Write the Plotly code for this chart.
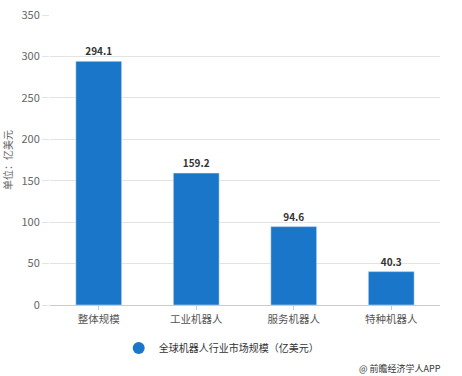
import plotly.graph_objects as go

categories = ["整体规模", "工业机器人", "服务机器人", "特种机器人"]
values = [294.1, 159.2, 94.6, 40.3]
series_name = "全球机器人行业市场规模（亿美元）"
y_ticks = [0, 50, 100, 150, 200, 250, 300, 350]

font_family = "Noto Sans CJK SC, Noto Sans, sans-serif"
bar_color = "#1a76c8"

fig = go.Figure()
fig.add_trace(go.Bar(
    x=categories, y=values, name=series_name,
    marker=dict(color=bar_color),
    width=0.47,
    text=[f"{v:.1f}" for v in values],
    textposition="outside",
    textfont=dict(size=10, color="#333333", family=font_family),
    texttemplate="<b>%{text}</b>",
    cliponaxis=False,
    showlegend=False,
))
# legend entry with circular marker
fig.add_trace(go.Scatter(
    x=[None], y=[None], mode="markers", name=series_name,
    marker=dict(color=bar_color, size=11, symbol="circle"),
    showlegend=True,
))

fig.update_layout(
    width=462, height=376,
    margin=dict(l=5, r=22, t=15, b=5),
    paper_bgcolor="white", plot_bgcolor="white",
    font=dict(family=font_family, size=10, color="#555555"),
    showlegend=True,
    legend=dict(orientation="h", x=0.497, xanchor="center", y=0.0646, yanchor="middle",
                font=dict(size=10, color="#333333"), itemsizing="constant",
                bgcolor="rgba(0,0,0,0)"),
    yaxis=dict(range=[0, 350], tickvals=y_ticks, showgrid=True, gridcolor="#e3e3e3",
               zeroline=False, tickfont=dict(size=11, color="#666666"),
               title=dict(text="单位：亿美元", font=dict(size=10, color="#666666"), standoff=12),
               ticks="outside", ticklen=7, tickcolor="#e3e3e3",
               showline=False, domain=[0.1854, 1], automargin=False),
    xaxis=dict(showline=True, linecolor="#cccccc", ticks="outside", ticklen=4,
               tickcolor="#cccccc", tickfont=dict(size=10.5, color="#555555"),
               domain=[0.1034, 1], automargin=False),
    bargap=0.5,
)

fig.add_annotation(text="@ 前瞻经济学人APP", xref="paper", yref="paper",
                   x=1.007, y=0.0084, xanchor="right", yanchor="middle", showarrow=False,
                   font=dict(size=9, color="#333333"))

fig.write_html("out.html", config={"displayModeBar": False},
               post_script="document.body.style.margin='0';document.body.style.overflow='hidden';")
